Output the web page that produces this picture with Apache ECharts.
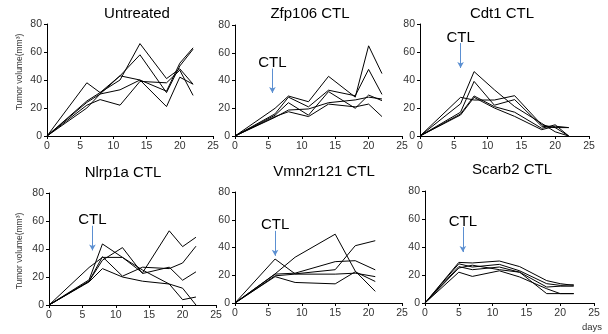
<!DOCTYPE html>
<html>
<head>
<meta charset="utf-8">
<script src="https://cdn.jsdelivr.net/npm/echarts@6/dist/echarts.min.js"></script>
<style>
html,body{margin:0;padding:0;background:#fff;}
#c{width:608px;height:334px;}
</style>
</head>
<body>
<div id="c"></div>
<script>
// ---- data ----
const panelTitles = ['Untreated', 'Zfp106 CTL', 'Cdt1 CTL', 'Nlrp1a CTL', 'Vmn2r121 CTL', 'Scarb2 CTL'];
const xTicks = [0, 5, 10, 15, 20, 25];
const yTicks = [0, 20, 40, 60, 80];

const untreatedDays = [0, 6, 8, 11, 14, 18, 20, 22];
const untreated = [
  [0, 38, 31, 40, 66, 41, 48, 37],
  [0, 25, 31, 43, 58, 31, 50, 62],
  [0, 22, 26, 22, 39, 38, 47, 29],
  [0, 20, 30, 33, 40, 21, 42, 37],
  [0, 24, 30, 43, 40, 32, 52, 63]
];

const zfp106Days = [0, 6, 8, 11, 14, 18, 20, 22];
const zfp106 = [
  [0, 20, 28.8, 24.7, 43, 28, 65, 45],
  [0, 16, 28, 21, 33, 29, 48, 30],
  [0, 15, 24, 15, 32, 20, 29.5, 25.5],
  [0, 13.5, 18.7, 19.5, 24, 26, 28, 26.7],
  [0, 14, 17.5, 14, 23, 21, 23, 14]
];

const cdt1Days = [0, 6, 8, 11, 14, 18, 20, 22];
const cdt1 = [
  [0, 23, 46, 33, 21, 9, 3, 0],
  [0, 17, 39, 22, 26, 7, 6, 0],
  [0, 27.6, 25.7, 25.7, 28.8, 8, 6, 6],
  [0, 15.7, 28.6, 21, 17, 5.5, 8, 0],
  [0, 15, 27.6, 20, 14, 4.5, 7, 6]
];

const nlrp1aDays = [0, 6, 8, 11, 14, 18, 20, 22];
const nlrp1a = [
  [0, 18, 43.6, 34, 23, 53, 41.7, 48.4],
  [0, 17, 34.5, 20.6, 27, 26, 30, 42],
  [0, 17, 32, 41, 22.5, 27, 17.7, 23.7],
  [0, 26.8, 34, 34, 25, 15, 12, 0],
  [0, 16.5, 26, 20, 17, 15, 3.8, 5.7]
];

const vmn2r121Days = [0, 6, 9, 15, 18, 21];
const vmn2r121 = [
  [0, 31.7, 21, 24, 41.3, 44.9],
  [0, 21, 33, 49.6, 23, 8.4],
  [0, 20.8, 21.5, 29.8, 30.5, 23.9],
  [0, 19.6, 20.8, 20.8, 21.5, 19],
  [0, 19, 14.8, 13.8, 22.5, 15.5]
];

const scarb2Days = [0, 5, 7, 11, 14, 18, 20, 22];
const scarb2 = [
  [0, 29, 28.6, 30, 26, 16, 13.8, 12.6],
  [0, 28, 25.7, 27.6, 23, 13.8, 12.6, 13],
  [0, 26, 23.8, 25.7, 22, 6.7, 6.7, 6.7],
  [0, 25, 27, 23.8, 22, 11.4, 12, 12],
  [0, 22, 19, 23, 18.6, 10.2, 6.7, 6.7]
];

// CTL injection arrow per panel: [day, arrowTop, arrowTip] (null = none)
const ctlArrows = [null, [5.6, 48.6, 31], [6, 66.4, 48.6], [6.5, 56.6, 39], [6, 52, 34], [5.6, 54.3, 36.4]];

const panelDays = [untreatedDays, zfp106Days, cdt1Days, nlrp1aDays, vmn2r121Days, scarb2Days];
const panelValues = [untreated, zfp106, cdt1, nlrp1a, vmn2r121, scarb2];

// ---- layout ----
const grids = [
  {left: 47, top: 24, width: 166, height: 112},
  {left: 235, top: 25, width: 167, height: 111},
  {left: 420, top: 24, width: 169, height: 112},
  {left: 49, top: 193, width: 167, height: 112},
  {left: 235, top: 192, width: 167, height: 111},
  {left: 425, top: 191, width: 169, height: 112}
];
const titlePos = [[137, 14], [310, 14], [502, 14], [123, 173], [324, 172], [512, 170]];
const FONT = '"Liberation Sans", Arial, sans-serif';

const axisCommon = {
  axisLine: {show: true, lineStyle: {color: '#000', width: 1}},
  axisTick: {show: true, length: 3, lineStyle: {color: '#000', width: 1}},
  axisLabel: {fontSize: 10.5, color: '#333', fontFamily: FONT},
  splitLine: {show: false}
};

const xAxes = [], yAxes = [], series = [], graphics = [];
grids.forEach((g, p) => {
  xAxes.push(Object.assign({}, axisCommon, {
    gridIndex: p, type: 'value', min: xTicks[0], max: xTicks[xTicks.length - 1], interval: 5,
    axisLabel: Object.assign({}, axisCommon.axisLabel, {margin: 5})
  }));
  yAxes.push(Object.assign({}, axisCommon, {
    gridIndex: p, type: 'value', min: yTicks[0], max: yTicks[yTicks.length - 1], interval: 20,
    axisLabel: Object.assign({}, axisCommon.axisLabel, {margin: 5})
  }));
  const days = panelDays[p];
  panelValues[p].forEach((vals, k) => {
    const s = {
      type: 'line', xAxisIndex: p, yAxisIndex: p,
      data: days.map((d, i) => [d, vals[i]]),
      symbol: 'none', showSymbol: false, silent: true,
      lineStyle: {color: '#000', width: 1}
    };
    if (k === 0 && ctlArrows[p]) {
      const a = ctlArrows[p];
      s.markLine = {
        silent: true, animation: false,
        symbol: ['none', 'arrow'], symbolSize: [5, 6],
        lineStyle: {color: '#5b8fd1', width: 1, type: 'solid'},
        label: {show: true, position: 'start', formatter: 'CTL', color: '#000', fontSize: 15, fontFamily: FONT, distance: -2},
        emphasis: {disabled: true},
        data: [[{coord: [a[0], a[1]]}, {coord: [a[0], a[2]]}]]
      };
    }
    series.push(s);
  });
  graphics.push({
    type: 'text', x: titlePos[p][0], y: titlePos[p][1],
    style: {text: panelTitles[p], fill: '#000', font: '15px ' + FONT,
      textAlign: 'center', textVerticalAlign: 'middle', align: 'center', verticalAlign: 'middle'}
  });
});

// y-axis names
[[20, 72], [20, 251]].forEach(pos => {
  graphics.push({
    type: 'text', x: pos[0], y: pos[1], rotation: Math.PI / 2,
    style: {text: 'Tumor volume(mm³)', fill: '#333', font: '8.5px ' + FONT,
      textAlign: 'center', textVerticalAlign: 'middle', align: 'center', verticalAlign: 'middle'}
  });
});
graphics.push({
  type: 'text', x: 592, y: 327,
  style: {text: 'days', fill: '#333', font: '9.5px ' + FONT,
    textAlign: 'center', textVerticalAlign: 'middle', align: 'center', verticalAlign: 'middle'}
});

const chart = echarts.init(document.getElementById('c'), null, {renderer: 'canvas'});
chart.setOption({
  animation: false,
  backgroundColor: '#fff',
  grid: grids,
  xAxis: xAxes,
  yAxis: yAxes,
  series: series,
  graphic: graphics
});
</script>
</body>
</html>
